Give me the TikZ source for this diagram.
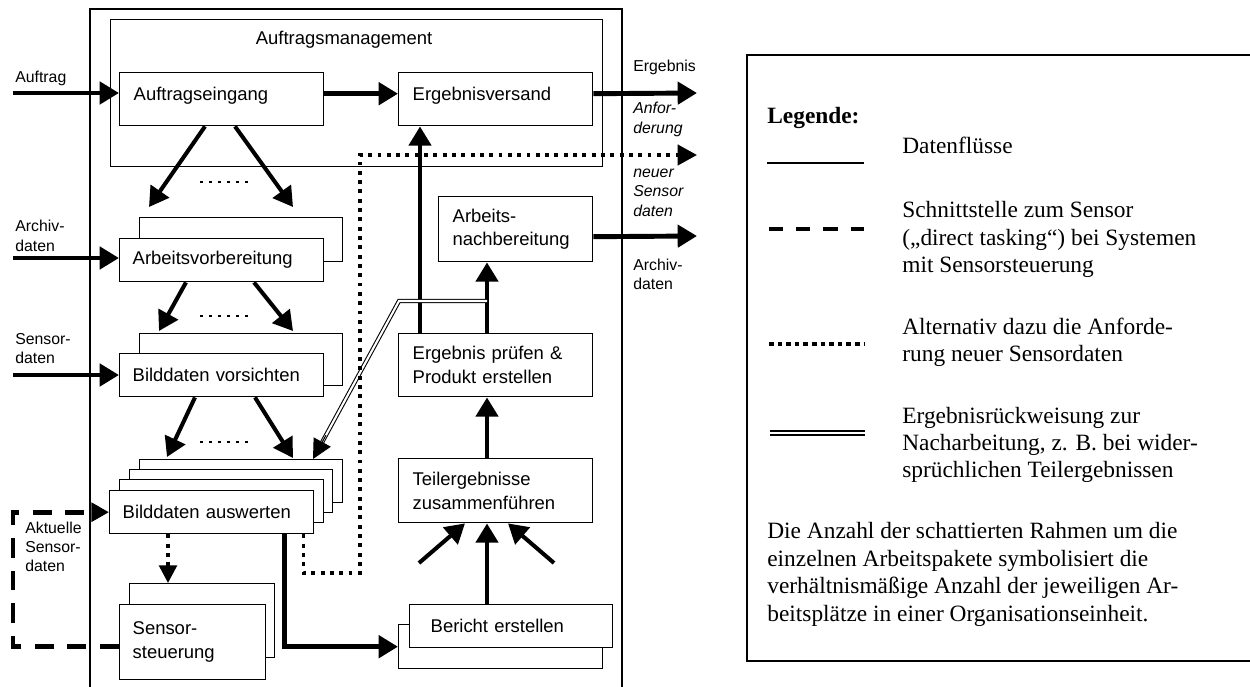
\documentclass[tikz,border=0pt]{standalone}
\usepackage{fontspec}
\setmainfont{Liberation Serif}
\newfontfamily\arialf{Liberation Sans}
\usetikzlibrary{arrows.meta,calc}
\begin{document}
\begin{tikzpicture}[x=0.02cm,y=-0.02cm,
  every node/.style={inner sep=0pt, font=\arialf\fontsize{10.5}{13.6}\selectfont},
  pbox/.style={draw, line width=0.8pt, fill=white, anchor=north west, align=left, inner xsep=0.28cm},
  bbox/.style={draw, line width=0.8pt, fill=white, anchor=north west},
  lblsmall/.style={anchor=west, align=left, font=\arialf\fontsize{9}{11}\selectfont},
  lblit/.style={anchor=west, align=left, font=\arialf\itshape\fontsize{9}{11}\selectfont},
  leg/.style={anchor=west, align=left, font=\rmfamily\fontsize{13.3}{15.6}\selectfont},
  flow/.style={line width=2.8pt, -{Triangle[length=11pt,width=12.5pt]}},
  flowd/.style={line width=2.3pt, -{Triangle[length=11pt,width=12.5pt]}},
  dotp/.style={line width=2pt, dash pattern=on 2.2pt off 3.1pt},
  dashp/.style={line width=2.8pt, dash pattern=on 11pt off 7.5pt},
  dbl/.style={double, line width=0.6pt, double distance=1.2pt},
  elli/.style={line width=1.5pt, dash pattern=on 1.7pt off 3.4pt},
]
\useasboundingbox (0,0) rectangle (1250,686);

% outer frame (open at the bottom)
\draw[line width=1.1pt] (90,700) -- (90,9) -- (622,9) -- (622,700);

% Auftragsmanagement
\node[draw, line width=0.8pt, anchor=north west, minimum width=9.84cm, minimum height=2.94cm] (am) at (110,19) {};
\node (amt) at (344,40) {Auftragsmanagement};

\node[pbox, minimum width=4.08cm, minimum height=1.06cm, text width=3.52cm, text depth=6.3pt] (ae) at (119,72) {Auftragseingang};
\node[pbox, minimum width=3.88cm, minimum height=1.06cm, text width=3.32cm, text depth=6.3pt] (ev) at (398,72) {Ergebnisversand};

% right column
\node[pbox, minimum width=3.08cm, minimum height=1.30cm, text width=2.52cm] (anb) at (438,196) {Arbeits-\\nachbereitung};
\node[pbox, minimum width=3.88cm, minimum height=1.26cm, text width=3.32cm] (ep) at (398,333) {Ergebnis prüfen \&\\Produkt erstellen};
\node[pbox, minimum width=3.88cm, minimum height=1.28cm, text width=3.32cm] (te) at (398,458) {Teilergebnisse\\zusammenführen};
\node[bbox, minimum width=4.08cm, minimum height=0.88cm] (berb) at (398,624) {};
\node[pbox, minimum width=4.06cm, minimum height=0.86cm, inner xsep=0.42cm, text width=3.22cm] (ber) at (409,604) {Bericht erstellen};

% left column
\node[bbox, minimum width=4.06cm, minimum height=0.88cm] (avbb) at (139,217) {};
\node[pbox, minimum width=4.08cm, minimum height=0.86cm, inner xsep=0.26cm, text width=3.56cm] (avb) at (119,238) {Arbeitsvorbereitung};
\node[bbox, minimum width=4.06cm, minimum height=1.04cm] (bvsb) at (139,333) {};
\node[pbox, minimum width=4.08cm, minimum height=0.86cm, inner xsep=0.26cm, text width=3.56cm] (bvs) at (119,353) {Bilddaten vorsichten};
\node[bbox, minimum width=4.06cm, minimum height=0.86cm] (ba1) at (139,459) {};
\node[bbox, minimum width=4.06cm, minimum height=0.86cm] (ba2) at (129,469) {};
\node[bbox, minimum width=4.08cm, minimum height=0.86cm] (ba3) at (119,479) {};
\node[pbox, minimum width=4.08cm, minimum height=0.86cm, inner xsep=0.26cm, text width=3.56cm] (bauf) at (109,490) {Bilddaten auswerten};
\node[bbox, minimum width=2.90cm, minimum height=1.48cm] (ssb) at (129,583) {};
\node[pbox, minimum width=2.92cm, minimum height=1.50cm, inner xsep=0.26cm, text width=2.40cm] (ss) at (119,604) {Sensor-\\steuerung};

% free ends
\coordinate (in1) at (13,93);
\coordinate (in2) at (13,258);
\coordinate (in3) at (13,375);
\coordinate (out1) at (697,93);
\coordinate (out2) at (697,155);
\coordinate (out3) at (697,236);
\coordinate (x420) at (420,0);
\coordinate (x487) at (487,0);
\coordinate (tl) at (419,563);
\coordinate (tr) at (554,563);
\coordinate (dc) at (360,573);
\coordinate (dl) at (13,0);
\coordinate (ds) at ($(ss.west)+(0,4.5)$);

% labels
\node[lblsmall] (l1) at (15,78) {Auftrag};
\node[lblsmall] (l2) at (15,236) {Archiv-\\daten};
\node[lblsmall] (l3) at (15,348.5) {Sensor-\\daten};
\node[lblsmall] (l4) at (25,547) {Aktuelle\\Sensor-\\daten};
\node[lblsmall] (l5) at (633,67) {Ergebnis};
\node[lblit] (l6) at (633,119.5) {Anfor-\\derung};
\node[lblit] (l7) at (633,192.5) {neuer\\Sensor\\daten};
\node[lblsmall] (l8) at (633,274.5) {Archiv-\\daten};

% inputs
\draw[flow] (in1) -- (in1 -| ae.west);
\draw[flow] (in2) -- (in2 -| avb.west);
\draw[flow] (in3) -- (in3 -| bvs.west);

% top row
\draw[flow] ($(ae.east)+(0,-5.5)$) -- ($(ev.west)+(0,-5.5)$);
\draw[flow] ($(ev.east)+(0,-5.5)$) -- (out1);
\draw[flow] ($(anb.east)+(0,7.5)$) -- (out3);

% left column flows
\draw[flowd] ($(ae.south west)+(86,0)$) -- ($(avbb.north west)+(10,-10)$);
\draw[flowd] ($(ae.south west)+(116,0)$) -- ($(avbb.north west)+(154,-10)$);
\draw[elli] (200,182) -- (250,182);
\draw[flowd] ($(avb.south west)+(67,0)$) -- ($(bvsb.north west)+(20,-2)$);
\draw[flowd] ($(avb.south west)+(135,0)$) -- ($(bvsb.north west)+(154,-2)$);
\draw[elli] (200,316) -- (250,316);
\draw[flowd] ($(bvs.south west)+(76,0)$) -- ($(ba1.north west)+(28,-2)$);
\draw[flowd] ($(bvs.south west)+(136,0)$) -- ($(ba1.north west)+(154,-1)$);
\draw[elli] (200,442) -- (250,442);

% right column flows
\draw[flow] (ep.north -| x420) -- (ev.south -| x420);
\draw[flow] (ep.north -| x487) -- (anb.south -| x487);
\draw[flow] (te.north -| x487) -- (ep.south -| x487);
\draw[flow] (ber.north -| x487) -- (te.south -| x487);
\draw[flowd] (tl) -- ($(te.south west)+(67,0)$);
\draw[flowd] (tr) -- ($(te.south west)+(110,0)$);

% report
\draw[flow] ($(bauf.south east)+(-30,0)$) |- (berb.west);

% rejection (double line)
\coordinate (j) at ($(ep.north -| x487)+(0,-32)$);
\coordinate (k) at ($(j)+(-88,0)$);
\coordinate (rt) at ($(ba1.north west)+(174,0)$);
\draw[dbl] (j) -- (k) -- ($(k)!0.9!(rt)$);
\draw[line width=0.6pt, -{Triangle[length=11pt,width=11pt]}] ($(k)!0.85!(rt)$) -- (rt);

% request for new sensor data (dotted)
\draw[dotp, -{Triangle[length=11pt,width=11.5pt]}] ($(bauf.south east)+(-11,0)$) |- (dc) -- (dc |- out2) -- (out2);
\draw[dotp, -{Triangle[length=10pt,width=10pt]}] ($(bauf.south west)+(59,0)$) -- ($(ssb.north west)+(39,0)$);

% direct tasking (dashed)
\draw[dashp, -{Triangle[length=10pt,width=10.5pt]}] (ds) -- (ds -| dl) -- (bauf.west -| dl) -- (bauf.west);

% legend
\draw[line width=0.8pt] (1260,55) -- (747,55) -- (747,661) -- (1260,661);
\node[leg, font=\rmfamily\bfseries\fontsize{13.3}{15.6}\selectfont] (lg) at (767,118) {Legende:};
\draw[line width=1.1pt] (767,163) -- (864,163);
\node[leg] (lg1) at (902,145) {Datenflüsse};
\draw[line width=2.3pt, dash pattern=on 8pt off 7.5pt] (769,229) -- (864,229);
\node[leg] (lg2) at (902,239.5) {Schnittstelle zum Sensor\\(„direct tasking“) bei Systemen\\mit Sensorsteuerung};
\draw[line width=2.2pt, dash pattern=on 2.6pt off 2.3pt] (769,344) -- (864,344);
\node[leg] (lg3) at (902,342.5) {Alternativ dazu die Anforde-\\rung neuer Sensordaten};
\draw[double, line width=1.3pt, double distance=1.3pt] (770,433) -- (865,433);
\node[leg] (lg4) at (902,445) {Ergebnisrückweisung zur\\Nacharbeitung, z. B. bei wider-\\sprüchlichen Teilergebnissen};
\node[leg] (lg5) at (767,574.5) {Die Anzahl der schattierten Rahmen um die\\einzelnen Arbeitspakete symbolisiert die\\verhältnismäßige Anzahl der jeweiligen Ar-\\beitsplätze in einer Organisationseinheit.};
\end{tikzpicture}
\end{document}
